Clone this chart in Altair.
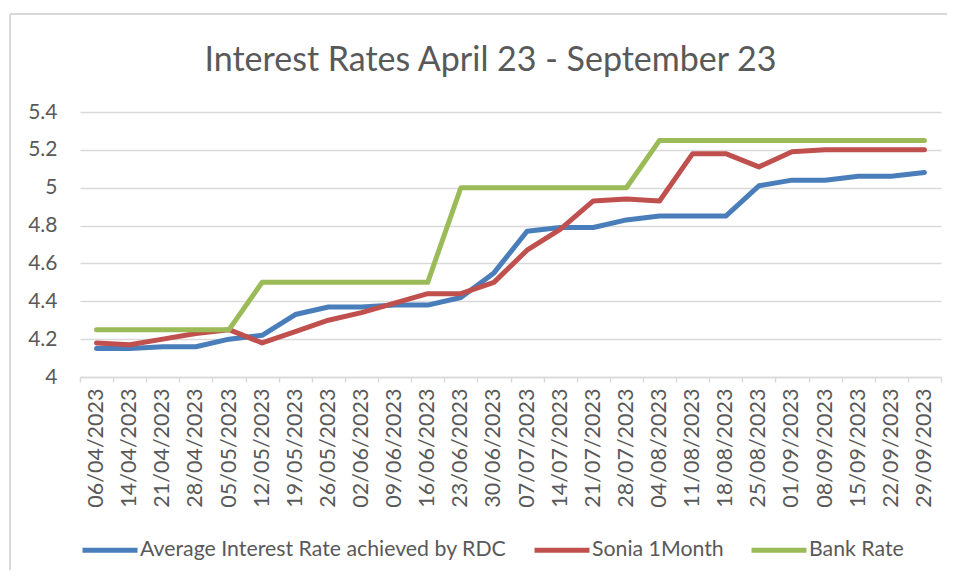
import altair as alt
import pandas as pd

dates = ["06/04/2023", "14/04/2023", "21/04/2023", "28/04/2023", "05/05/2023",
         "12/05/2023", "19/05/2023", "26/05/2023", "02/06/2023", "09/06/2023",
         "16/06/2023", "23/06/2023", "30/06/2023", "07/07/2023", "14/07/2023",
         "21/07/2023", "28/07/2023", "04/08/2023", "11/08/2023", "18/08/2023",
         "25/08/2023", "01/09/2023", "08/09/2023", "15/09/2023", "22/09/2023",
         "29/09/2023"]

rdc = [4.15, 4.15, 4.16, 4.16, 4.20, 4.22, 4.33, 4.37, 4.37, 4.38,
       4.38, 4.42, 4.55, 4.77, 4.79, 4.79, 4.83, 4.85, 4.85, 4.85,
       5.01, 5.04, 5.04, 5.06, 5.06, 5.08]
sonia = [4.18, 4.17, 4.20, 4.23, 4.25, 4.18, 4.24, 4.30, 4.34, 4.39,
         4.44, 4.44, 4.50, 4.67, 4.78, 4.93, 4.94, 4.93, 5.18, 5.18,
         5.11, 5.19, 5.20, 5.20, 5.20, 5.20]
bank = [4.25, 4.25, 4.25, 4.25, 4.25, 4.50, 4.50, 4.50, 4.50, 4.50,
        4.50, 5.00, 5.00, 5.00, 5.00, 5.00, 5.00, 5.25, 5.25, 5.25,
        5.25, 5.25, 5.25, 5.25, 5.25, 5.25]

series_names = ["Average Interest Rate achieved by RDC", "Sonia 1Month", "Bank Rate"]
series_colors = ["#4A7EBB", "#C0504D", "#9BBB59"]
y_ticks = [4, 4.2, 4.4, 4.6, 4.8, 5, 5.2, 5.4]

rows = []
for name, vals in zip(series_names, [rdc, sonia, bank]):
    for d, v in zip(dates, vals):
        rows.append({"date": d, "series": name, "value": v})
df = pd.DataFrame(rows)

FONT = "Lato"
GREY = "#595959"
LIGHT = "#D9D9D9"

# chart-area frame (decoration): top and left edges, the others lie beyond the picture
one = alt.Data(values=[{}])
frame_top = alt.Chart(one).mark_rule(stroke=LIGHT, strokeWidth=2).encode(
    x=alt.value(-70), x2=alt.value(1500), y=alt.value(-98)
)
frame_left = alt.Chart(one).mark_rule(stroke=LIGHT, strokeWidth=2).encode(
    x=alt.value(-70), y=alt.value(-98), y2=alt.value(1000)
)

lines = alt.Chart(df).mark_line(strokeWidth=5, strokeCap="round", strokeJoin="round").encode(
    x=alt.X("date:N", sort=dates, title=None,
            scale=alt.Scale(paddingInner=0, paddingOuter=0),
            axis=alt.Axis(labelAngle=-90, labelFont=FONT, labelFontSize=21.5, labelColor=GREY,
                          labelPadding=6, domainColor=LIGHT, domainWidth=1.5,
                          tickColor=LIGHT, tickWidth=1.5, tickSize=5, tickBand="extent",
                          grid=False, labelBaseline="middle")),
    y=alt.Y("value:Q", title=None,
            scale=alt.Scale(domain=[4, 5.4], nice=False, zero=False),
            axis=alt.Axis(values=y_ticks, format="~g", labelFont=FONT, labelFontSize=21,
                          labelColor=GREY, domain=False, ticks=False, labelPadding=23,
                          gridColor=LIGHT, gridWidth=1.5)),
    color=alt.Color("series:N",
                    scale=alt.Scale(domain=series_names, range=series_colors),
                    legend=alt.Legend(orient="none", legendX=0, legendY=408, direction="horizontal",
                                      title=None, symbolType="stroke", symbolSize=3025,
                                      symbolStrokeWidth=5, labelFont=FONT, labelFontSize=21.3,
                                      labelColor=GREY, columnPadding=17, labelOffset=0,
                                      labelLimit=500)),
)

chart = alt.layer(frame_top, frame_left, lines).properties(
    width=861, height=265,
    title=alt.TitleParams("Interest Rates April 23 - September 23", font=FONT, fontSize=34,
                          fontWeight="normal", color=GREY, anchor="middle", dx=-20, dy=92,
                          offset=0, baseline="alphabetic"),
    padding={"left": 72, "top": 104, "right": 6, "bottom": 193},
    autosize="none",
).configure_view(stroke=None)

chart.save("out.html", embed_options={"renderer": "svg", "actions": False})
